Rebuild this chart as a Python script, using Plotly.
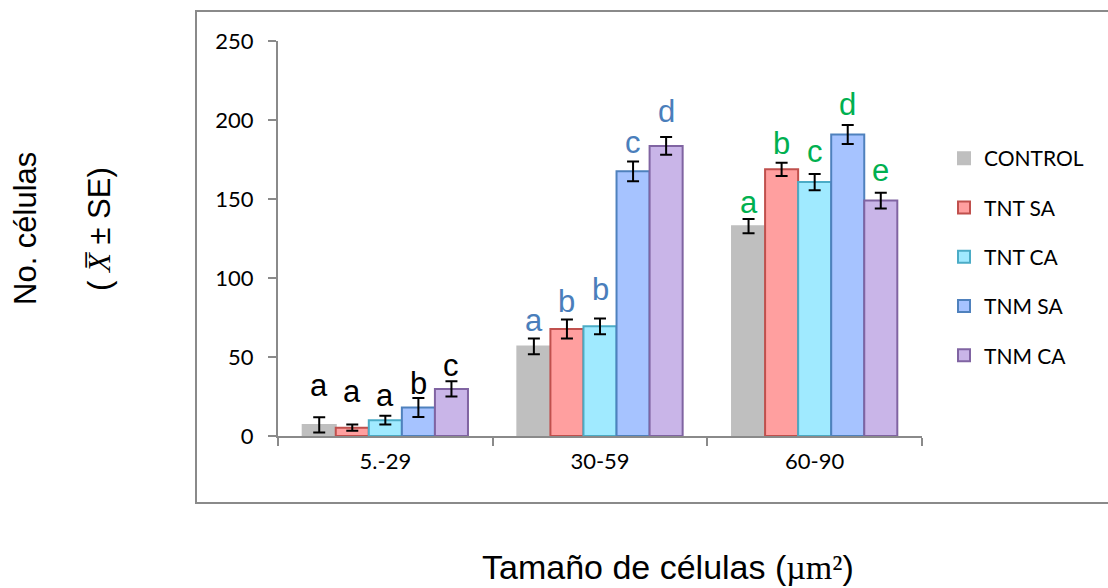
import plotly.graph_objects as go

categories = ["5.-29", "30-59", "60-90"]
series_names = ["CONTROL", "TNT SA", "TNT CA", "TNM SA", "TNM CA"]
control = [7.0, 56.7, 132.8]
tnt_sa = [5.3, 67.7, 168.8]
tnt_ca = [10.0, 69.4, 160.7]
tnm_sa = [18.0, 167.5, 190.8]
tnm_ca = [29.8, 183.6, 149.0]
control_se = [4.8, 5.0, 4.5]
tnt_sa_se = [2.0, 6.0, 4.2]
tnt_ca_se = [2.8, 5.0, 5.2]
tnm_sa_se = [6.0, 6.2, 6.0]
tnm_ca_se = [4.8, 5.6, 5.0]
letters = [["a", "a", "a", "b", "c"],
           ["a", "b", "b", "c", "d"],
           ["a", "b", "c", "d", "e"]]
y_ticks = [0, 50, 100, 150, 200, 250]

values = [control, tnt_sa, tnt_ca, tnm_sa, tnm_ca]
errors = [control_se, tnt_sa_se, tnt_ca_se, tnm_sa_se, tnm_ca_se]

fills = ["#BFBFBF", "#FF9F9F", "#A0EAFF", "#A6C3FF", "#C9B5E8"]
borders = ["#BFBFBF", "#C0504D", "#4BACC6", "#4F81BD", "#8064A2"]
letter_colors = ["#000000", "#4A7EBB", "#00B050"]
# pixel gap between error-bar top and letter baseline (layout tweak)
letter_lift = [[21, 22, 10, 4, 5], [8, 8, 18, 9, 15], [6, 9, 12, 10, 12]]

W, H = 1108, 588
L, R, T, B = 278, 922, 41, 436
pw, ph = R - L, B - T

def px(x):
    return (x - L) / pw

def py(y):
    return (B - y) / ph

fig = go.Figure()
for i, name in enumerate(series_names):
    fig.add_trace(go.Bar(
        name=name, x=categories, y=values[i],
        marker=dict(color=fills[i], line=dict(color=borders[i], width=2)),
        error_y=dict(type="data", array=errors[i], visible=True,
                     color="black", thickness=2, width=6),
        legendgroup=name,
    ))

bargap = 0.23
bw = (1 - bargap) / len(series_names)
annotations = []
for g in range(len(categories)):
    for i in range(len(series_names)):
        annotations.append(dict(
            x=g + (i - 2) * bw, y=values[i][g] + errors[i][g],
            xref="x", yref="y", text=letters[g][i], showarrow=False,
            xanchor="center", yanchor="bottom",
            yshift=letter_lift[g][i] - 9,
            font=dict(family="Liberation Sans, Arial", size=31,
                      color=letter_colors[g]),
        ))

annotations.append(dict(
    x=px(25), y=py(229), xref="paper", yref="paper", text="No. células",
    textangle=-90, showarrow=False, xanchor="center", yanchor="middle",
    font=dict(family="Liberation Sans, Arial", size=31, color="black")))
annotations.append(dict(
    x=px(99), y=py(229), xref="paper", yref="paper",
    text="( <span style='font-family:Liberation Serif'><i>X\u0305</i></span> ± SE)",
    textangle=-90, showarrow=False, xanchor="center", yanchor="middle",
    font=dict(family="Liberation Sans, Arial", size=31, color="black")))
annotations.append(dict(
    x=px(668), y=py(567), xref="paper", yref="paper",
    text="Tamaño de células (<span style='font-family:Liberation Serif'>µm²</span>)",
    showarrow=False, xanchor="center", yanchor="middle",
    font=dict(family="Liberation Sans, Arial", size=34, color="black")))

fig.update_layout(
    width=W, height=H, autosize=False,
    margin=dict(l=L, r=W - R, t=T, b=H - B, pad=0),
    paper_bgcolor="white", plot_bgcolor="white",
    barmode="group", bargap=bargap, bargroupgap=0,
    font=dict(family="Lato, Open Sans, sans-serif", size=21, color="black"),
    showlegend=True,
    legend=dict(x=px(944), y=py(138), xanchor="left", yanchor="top",
                traceorder="grouped", tracegroupgap=19,
                font=dict(family="Lato, sans-serif", size=21, color="black"),
                bgcolor="rgba(0,0,0,0)"),
    annotations=annotations,
    shapes=[dict(type="rect", xref="paper", yref="paper",
                 x0=px(196), x1=px(1115), y0=py(503), y1=py(11),
                 line=dict(color="#8A8A8A", width=2), layer="below")],
)
fig.update_yaxes(range=[0, 250], tickvals=y_ticks, showline=True,
                 linecolor="#8A8A8A", linewidth=2, ticks="outside", ticklen=8,
                 tickcolor="#8A8A8A", tickwidth=2, showgrid=False, zeroline=False,
                 ticklabelstandoff=10,
                 tickfont=dict(family="Lato, sans-serif", size=22, color="black"))
fig.update_xaxes(showline=True, linecolor="#8A8A8A", linewidth=2,
                 ticks="outside", ticklen=8, tickcolor="#8A8A8A", tickwidth=2,
                 tickson="boundaries", showgrid=False, range=[-0.5, 2.5],
                 ticklabelstandoff=5,
                 tickfont=dict(family="Lato, sans-serif", size=22, color="black"))

fig.write_html("out.html")
